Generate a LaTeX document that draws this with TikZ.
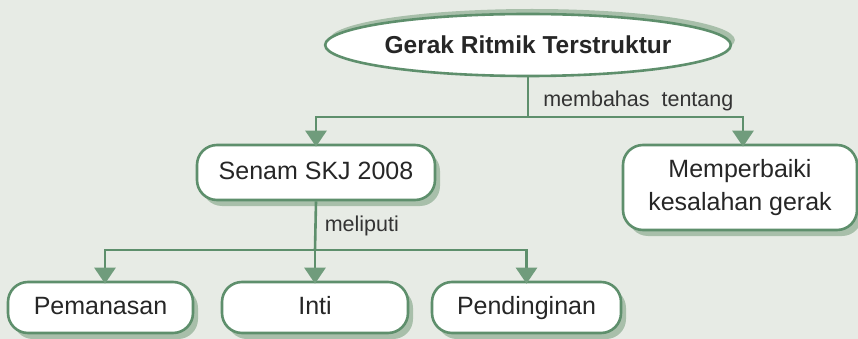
\documentclass[tikz,border=0pt]{standalone}
\usepackage{fontspec}
\setmainfont{Liberation Sans}
\usetikzlibrary{shapes.geometric,shadows,arrows.meta}
\definecolor{bggray}{RGB}{231,235,229}
\definecolor{linegreen}{RGB}{94,143,108}
\definecolor{shadegreen}{RGB}{168,191,170}
\definecolor{tipgreen}{RGB}{112,156,124}
\begin{document}
\begin{tikzpicture}[x=1pt,y=-1pt,
  box/.style={draw=linegreen,line width=2.6pt,fill=white,rounded corners=20pt,
    font=\fontsize{25}{33}\selectfont,text=black!85,inner sep=0pt,
    drop shadow={shadow xshift=5pt,shadow yshift=-6pt,fill=shadegreen,opacity=1}},
  oneline/.style={text height=18pt,text depth=5pt},
  link/.style={draw=linegreen,line width=2.6pt},
  arr/.style={link,shorten >=-3pt,-{Triangle[width=21pt,length=16pt,color=tipgreen,fill=tipgreen]}},
  lbl/.style={font=\fontsize{21.5}{25}\selectfont,text=black!80,inner sep=0pt}]
\useasboundingbox (0,0) rectangle (858,339);
\fill[bggray] (0,0) rectangle (858,339);
\node[ellipse,draw=linegreen,line width=2.6pt,fill=white,minimum width=332pt,minimum height=62pt,
  inner sep=0pt,font=\bfseries\fontsize{24.5}{30}\selectfont,text=black!85,
  drop shadow={shadow xshift=4pt,shadow yshift=5pt,fill=shadegreen,opacity=1}] (gerak) at (528,45) {Gerak Ritmik Terstruktur};
\node[box,oneline,minimum width=238pt,minimum height=55pt] (senam) at (316,172.5) {Senam SKJ 2008};
\node[box,minimum width=234pt,minimum height=85pt,align=center] (perbaiki) at (740,187.5) {Memperbaiki\\kesalahan gerak};
\node[box,oneline,minimum width=185pt,minimum height=51pt] (pemanasan) at (100.5,307.5) {Pemanasan};
\node[box,oneline,minimum width=186pt,minimum height=51pt] (inti) at (315,307.5) {Inti};
\node[box,oneline,minimum width=189pt,minimum height=51pt] (pendinginan) at (526.5,307.5) {Pendinginan};
\coordinate (j1) at (528,117);
\coordinate (j2) at (315,250);
\draw[link] (gerak.south) -- node[lbl,right,pos=0.6,xshift=14pt] {membahas\ \ tentang} (j1);
\draw[arr] (j1) -| (senam.north);
\draw[arr] (j1) -| ([xshift=3pt]perbaiki.north);
\draw[link] (senam.south) -- node[lbl,right,xshift=8pt] {meliputi} (j2);
\draw[arr] (j2) -| ([xshift=4.5pt]pemanasan.north);
\draw[arr] (j2) -- (inti.north);
\draw[arr] (j2) -| (pendinginan.north);
\end{tikzpicture}
\end{document}
